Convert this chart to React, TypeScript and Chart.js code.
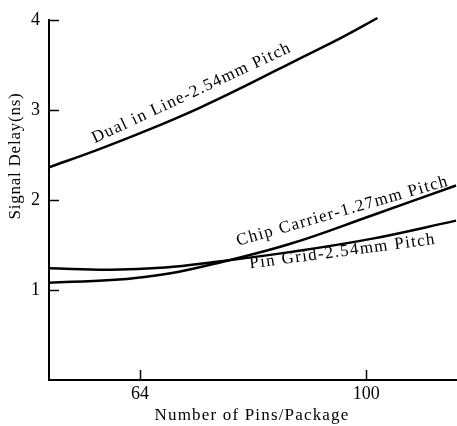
import React, { useEffect, useRef } from 'react';
import { Chart, registerables } from 'chart.js';

Chart.register(...registerables);

// Data
const pinsDualInLine = [49.4, 57, 64.7, 73.4, 80.6, 89.4, 96, 101.8];
const delayDualInLine = [2.36, 2.55, 2.76, 3.02, 3.26, 3.57, 3.8, 4.02];
const pinsChipCarrier = [49.5, 59.4, 64.7, 70, 75.8, 87.8, 101, 114.3];
const delayChipCarrier = [1.08, 1.11, 1.145, 1.2, 1.29, 1.51, 1.83, 2.16];
const pinsPinGrid = [49.5, 59.4, 68, 75.8, 87.8, 101, 114.3];
const delayPinGrid = [1.24, 1.225, 1.25, 1.31, 1.42, 1.57, 1.77];
const seriesNames = [
  'Dual in Line-2.54mm Pitch',
  'Chip Carrier-1.27mm Pitch',
  'Pin Grid-2.54mm Pitch',
];
const xTickValues = [64, 100];
const yTickValues = [1, 2, 3, 4];
const xTitle = 'Number of Pins/Package';
const yTitle = 'Signal Delay(ns)';

// Annotation layout (data-space anchors for the curve labels)
const labelAnchors = [
  { x: 56.8, y: 2.63, angle: -25, width: 218 },
  { x: 79.6, y: 1.49, angle: -16, width: 220 },
  { x: 81.5, y: 1.24, angle: -7.5, width: 188 },
];

const FONT = '"Liberation Serif", "DejaVu Serif", serif';

function drawFitted(ctx: CanvasRenderingContext2D, text: string, x: number, y: number, width: number) {
  (ctx as any).letterSpacing = '0px';
  const w = ctx.measureText(text).width;
  const ls = (width - w) / text.length;
  (ctx as any).letterSpacing = ls + 'px';
  ctx.textAlign = 'left';
  ctx.textBaseline = 'alphabetic';
  ctx.fillText(text, x, y);
  (ctx as any).letterSpacing = '0px';
}

const overlayPlugin = {
  id: 'overlay',
  afterDraw(chart: any) {
    const { ctx, scales } = chart;
    const xs = scales.x;
    const ys = scales.y;
    ctx.save();
    ctx.strokeStyle = '#000';
    ctx.lineWidth = 1.5;
    yTickValues.forEach((v) => {
      const py = Math.round(ys.getPixelForValue(v)) + 0.5;
      ctx.beginPath();
      ctx.moveTo(xs.left, py);
      ctx.lineTo(xs.left + 10, py);
      ctx.stroke();
    });
    xTickValues.forEach((v) => {
      const px = Math.round(xs.getPixelForValue(v)) + 0.5;
      ctx.beginPath();
      ctx.moveTo(px, ys.bottom);
      ctx.lineTo(px, ys.bottom - 10);
      ctx.stroke();
    });

    ctx.fillStyle = '#000';
    ctx.font = '17px ' + FONT;
    // x title
    drawFitted(ctx, xTitle, 252 - 195 / 2, 420, 195);
    // y title
    ctx.save();
    ctx.translate(20, 156 + 127 / 2);
    ctx.rotate(-Math.PI / 2);
    drawFitted(ctx, yTitle, 0, 0, 127);
    ctx.restore();

    // curve labels
    ctx.font = '17px ' + FONT;
    labelAnchors.forEach((a, i) => {
      const px = xs.getPixelForValue(a.x);
      const py = ys.getPixelForValue(a.y);
      ctx.save();
      ctx.translate(px, py);
      ctx.rotate((a.angle * Math.PI) / 180);
      drawFitted(ctx, seriesNames[i], 0, 0, a.width);
      ctx.restore();
    });
    ctx.restore();
  },
};

function toPoints(xs: number[], ys: number[]) {
  return xs.map((x, i) => ({ x, y: ys[i] }));
}

export default function App() {
  const ref = useRef<HTMLCanvasElement | null>(null);
  useEffect(() => {
    document.body.style.margin = '0';
    const canvas = ref.current;
    if (!canvas) return;
    const lineStyle = {
      borderColor: '#000',
      borderWidth: 2.5,
      pointRadius: 0,
      fill: false,
      tension: 0.4,
      clip: false as any,
    };
    const chart = new Chart(canvas, {
      type: 'line',
      data: {
        datasets: [
          { label: seriesNames[0], data: toPoints(pinsDualInLine, delayDualInLine), ...lineStyle },
          { label: seriesNames[1], data: toPoints(pinsChipCarrier, delayChipCarrier), ...lineStyle },
          { label: seriesNames[2], data: toPoints(pinsPinGrid, delayPinGrid), ...lineStyle },
        ],
      },
      options: {
        animation: false,
        responsive: false,
        devicePixelRatio: 1,
        layout: { padding: { top: 14, right: 1, left: 0, bottom: 0 } },
        plugins: { legend: { display: false }, tooltip: { enabled: false } },
        scales: {
          x: {
            type: 'linear',
            min: 49.5,
            max: 114.3,
            afterBuildTicks: (s: any) => {
              s.ticks = xTickValues.map((v) => ({ value: v }));
            },
            afterFit: (s: any) => {
              s.height = 46;
            },
            grid: { display: false, drawTicks: false },
            border: { display: true, color: '#000', width: 2 },
            ticks: {
              color: '#000',
              font: { family: FONT, size: 18 },
              padding: 3,
              maxRotation: 0,
              autoSkip: false,
            },
          },
          y: {
            type: 'linear',
            min: 0,
            max: 4,
            afterBuildTicks: (s: any) => {
              s.ticks = yTickValues.map((v) => ({ value: v }));
            },
            afterFit: (s: any) => {
              s.width = 49;
            },
            grid: { display: false, drawTicks: false },
            border: { display: true, color: '#000', width: 2 },
            ticks: {
              color: '#000',
              font: { family: FONT, size: 18 },
              padding: 9,
            },
          },
        },
      },
      plugins: [overlayPlugin],
    });
    return () => chart.destroy();
  }, []);
  return (
    <div style={{ width: 457, height: 426 }}>
      <canvas ref={ref} width={457} height={426} style={{ display: 'block' }} />
    </div>
  );
}
